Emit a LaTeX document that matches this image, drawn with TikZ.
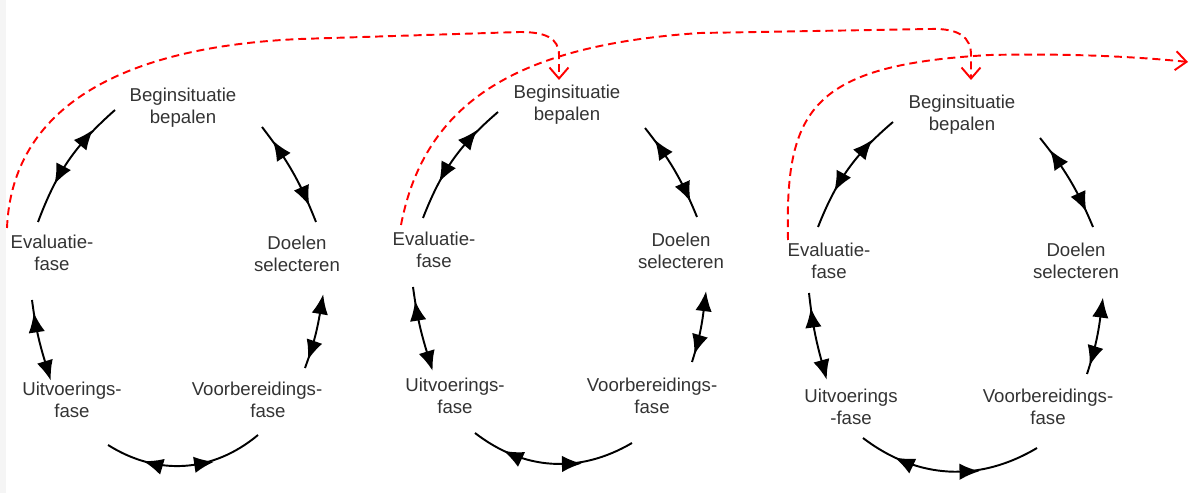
\documentclass[tikz,border=0pt]{standalone}
\usepackage{fontspec}
\setmainfont{Liberation Sans}
\usetikzlibrary{arrows.meta,decorations.markings}

\tikzset{
  fase/.style={align=center, text=black!80, inner sep=1pt,
    font=\fontsize{10.6}{12.5}\selectfont},
  kring/.style={line width=1.1pt, black},
  tweezijdig/.style 2 args={kring, postaction={decorate, decoration={markings,
      mark=at position #1 with {\arrow{Latex[reversed,length=4mm,width=3.3mm]}},
      mark=at position #2 with {\arrow{Latex[length=4mm,width=3.3mm]}}}}},
  terug/.style={red, line width=1.1pt, dash pattern=on 4.5pt off 2.8pt,
    -{Straight Barb[length=2.2mm,width=3.8mm]}}
}

\begin{document}
\begin{tikzpicture}[x=0.02cm, y=0.02cm]
  \useasboundingbox (0,0) rectangle (1199,493);
  \fill[gray!8] (0,0) rectangle (6,493);

  % kring 1
  \node[fase] (b1) at (183,385) {Beginsituatie\\bepalen};
  \node[fase] (d1) at (297,239) {Doelen\\selecteren};
  \node[fase] (v1) at (268,93) {\hspace*{-4.4mm}Voorbereidings-\\fase};
  \node[fase] (u1) at (72,93) {Uitvoerings-\\fase};
  \node[fase] (e1) at (52,240) {Evaluatie-\\fase};
  \draw[tweezijdig={0.36}{0.7}] ([shift={(-68,-2)}]b1.center) to[bend right=14] ([shift={(-14,31)}]e1.center);
  \draw[tweezijdig={0.34}{0.84}] ([shift={(79,-19)}]b1.center) to[bend left=8] ([shift={(19,32)}]d1.center);
  \draw[tweezijdig={0.2}{0.88}] ([shift={(25,-46)}]d1.center) to[bend left=6] ([shift={(37,32)}]v1.center);
  \draw[tweezijdig={0.44}{0.76}] ([shift={(-10,-35)}]v1.center) to[bend left=36] ([shift={(36,-45)}]u1.center);
  \draw[tweezijdig={0.1}{0.82}] ([shift={(-25,32)}]u1.center) to[bend left=5] ([shift={(-20,-47)}]e1.center);

  % kring 2
  \node[fase] (b2) at (567,388) {Beginsituatie\\bepalen};
  \node[fase] (d2) at (681,242) {Doelen\\selecteren};
  \node[fase] (v2) at (652,97) {Voorbereidings-\\fase};
  \node[fase] (u2) at (455,97) {Uitvoerings-\\fase};
  \node[fase] (e2) at (434,243) {Evaluatie-\\fase};
  \draw[tweezijdig={0.36}{0.7}] ([shift={(-69,-7)}]b2.center) to[bend right=14] ([shift={(-11,32)}]e2.center);
  \draw[tweezijdig={0.34}{0.84}] ([shift={(78,-23)}]b2.center) to[bend left=8] ([shift={(16,34)}]d2.center);
  \draw[tweezijdig={0.2}{0.88}] ([shift={(24,-47)}]d2.center) to[bend left=6] ([shift={(40,34)}]v2.center);
  \draw[tweezijdig={0.44}{0.8}] ([shift={(-20,-47)}]v2.center) to[bend left=34] ([shift={(20,-37)}]u2.center);
  \draw[tweezijdig={0.14}{0.82}] ([shift={(-25,34)}]u2.center) to[bend left=5] ([shift={(-21,-37)}]e2.center);

  % kring 3
  \node[fase] (b3) at (962,378) {Beginsituatie\\bepalen};
  \node[fase] (d3) at (1076,232) {Doelen\\selecteren};
  \node[fase] (v3) at (1048,86) {Voorbereidings-\\fase};
  \node[fase] (u3) at (851,86) {Uitvoerings\\-fase};
  \node[fase] (e3) at (829,232) {Evaluatie-\\fase};
  \draw[tweezijdig={0.36}{0.7}] ([shift={(-69,-7)}]b3.center) to[bend right=14] ([shift={(-11,34)}]e3.center);
  \draw[tweezijdig={0.34}{0.84}] ([shift={(78,-23)}]b3.center) to[bend left=8] ([shift={(17,34)}]d3.center);
  \draw[tweezijdig={0.2}{0.88}] ([shift={(26,-42)}]d3.center) to[bend left=6] ([shift={(39,33)}]v3.center);
  \draw[tweezijdig={0.44}{0.8}] ([shift={(-11,-41)}]v3.center) to[bend left=34] ([shift={(12,-31)}]u3.center);
  \draw[tweezijdig={0.16}{0.82}] ([shift={(-26,34)}]u3.center) to[bend left=5] ([shift={(-20,-32)}]e3.center);

  % van evaluatie naar de volgende kring
  \coordinate (verder) at (1188,431);
  \draw[terug] ([shift={(-45,25)}]e1.center) .. controls (12,385) and (120,446) .. (300,454)
    -- (520,461) .. controls (545,461) and (559,455) .. (559,438) -- ([shift={(-8,25)}]b2.center);
  \draw[terug] ([shift={(-33,25)}]e2.center) .. controls (425,393) and (520,448) .. (700,460)
    -- (930,464) .. controls (960,465) and (971,455) .. (971,438) -- ([shift={(9,35)}]b3.center);
  \draw[terug] ([shift={(-41,21)}]e3.center) .. controls (785,383) and (810,428) .. (990,438)
    .. controls (1080,440) and (1150,435) .. (verder);
\end{tikzpicture}
\end{document}
